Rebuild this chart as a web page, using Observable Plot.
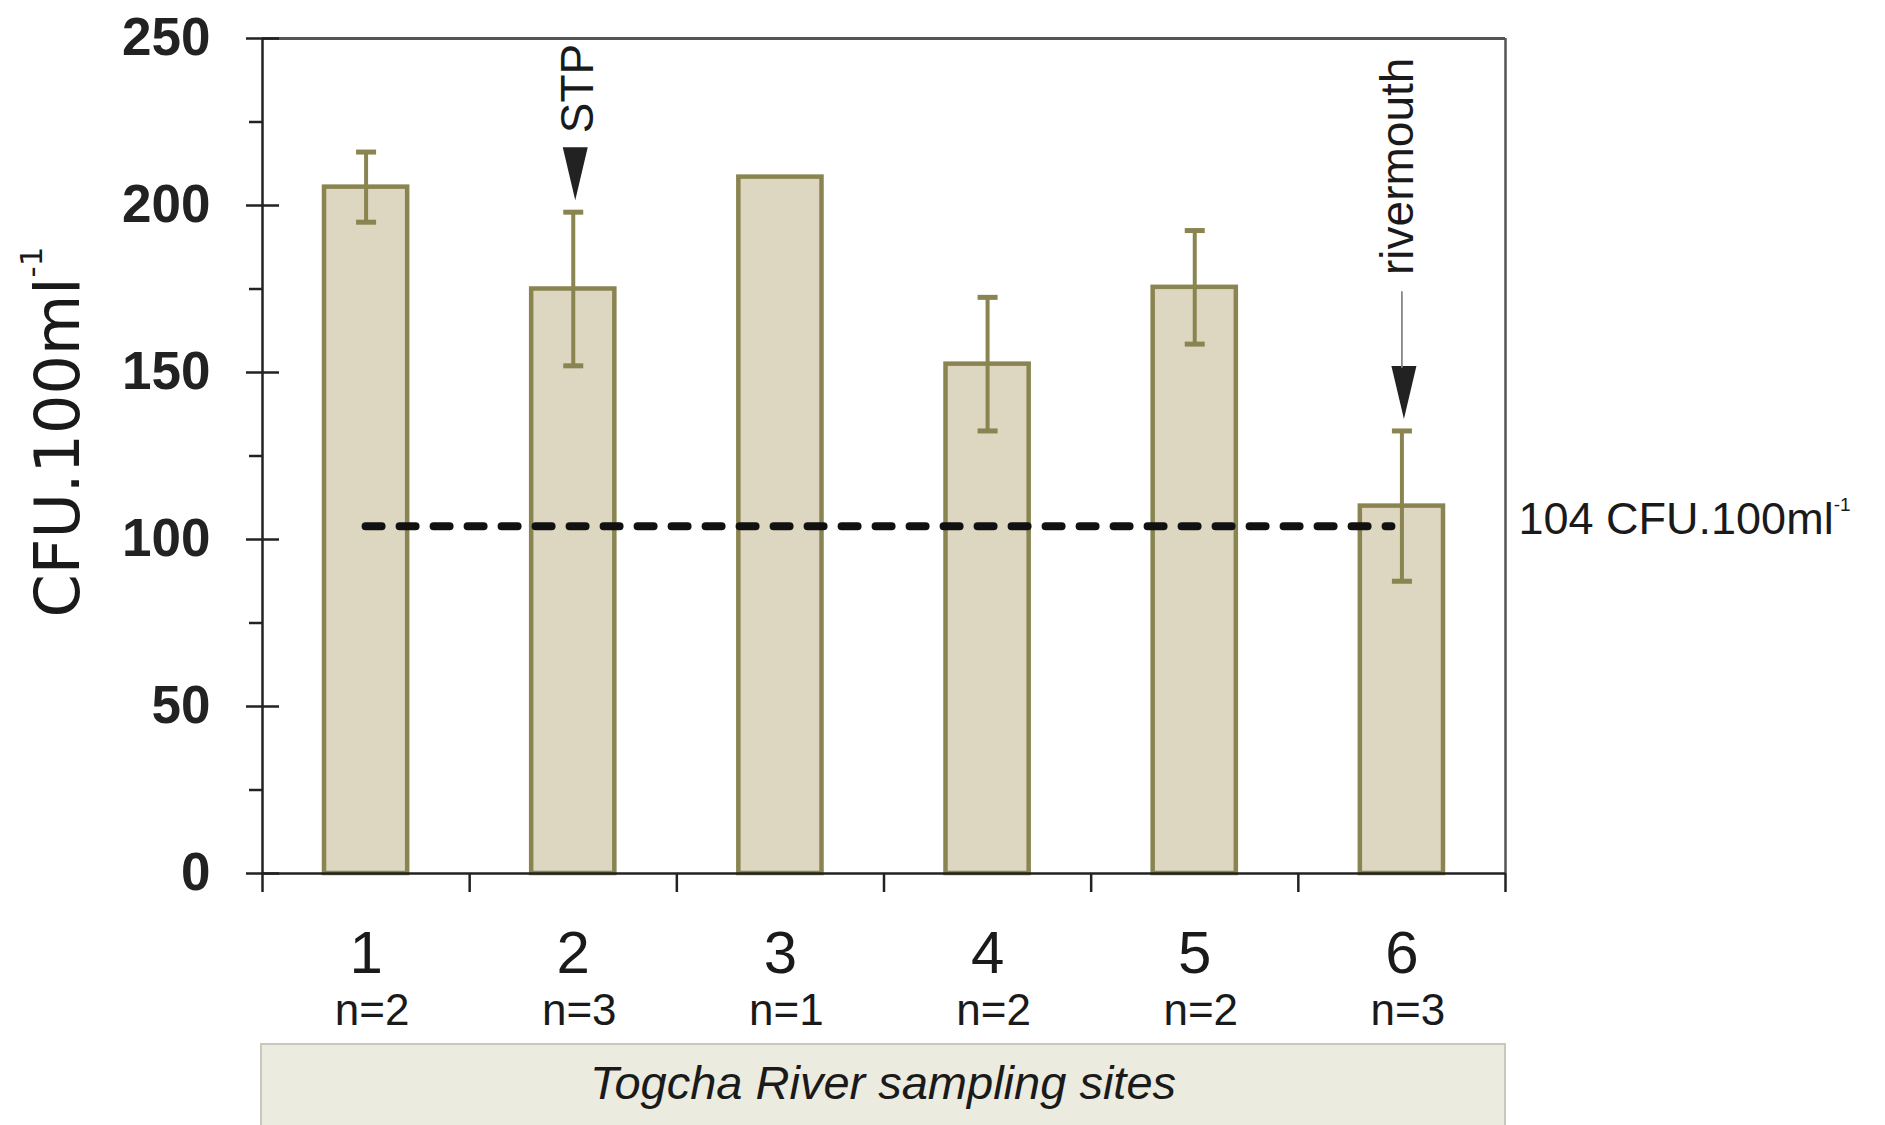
<!DOCTYPE html>
<html>
<head>
<meta charset="utf-8">
<script src="https://cdn.jsdelivr.net/npm/d3@7"></script>
<script src="https://cdn.jsdelivr.net/npm/@observablehq/plot@0.6"></script>
<style>
  html, body { margin: 0; padding: 0; background: #fff; }
  #chart svg { display: block; }
  #caption {
    margin-left: 260px; width: 1246px; height: 82px; box-sizing: border-box;
    background: #ecebdf; border: 2px solid #c9c8bd; border-bottom: none;
    font: italic 47px "Liberation Sans", Arial, sans-serif; color: #1a1a1a;
    text-align: center; line-height: 47px; padding-top: 14px;
  }
</style>
</head>
<body>
<div id="chart"></div>
<div id="caption"></div>
<script>
// ---- data ----
const sites = [1, 2, 3, 4, 5, 6];
const means = [205.5, 175, 208.5, 152.5, 175.5, 110];
const errors = [10.5, 23, null, 20, 17, 22.5];
const nCounts = [2, 3, 1, 2, 2, 3];
const threshold = 104;
const yMajor = [0, 50, 100, 150, 200, 250];
const yMinor = [25, 75, 125, 175, 225];
const annotations = [{site: 2, label: "STP"}, {site: 6, label: "rivermouth"}];
const yTitle = "CFU.100ml";
const unitSup = "-1";
const xTitle = "Togcha River sampling sites";

// ---- derived tables ----
const rows = sites.map((s, i) => ({site: s, mean: means[i], err: errors[i], n: nCounts[i]}));
const errRows = rows.filter(d => d.err != null).map(d => ({...d, lo: d.mean - d.err, hi: d.mean + d.err}));
const capRows = errRows.flatMap(d => [{site: d.site, v: d.lo}, {site: d.site, v: d.hi}]);
const ann = annotations.map(a => ({...a, ...errRows.find(r => r.site === a.site)}));
const boundaries = [...sites.map(s => s - 0.5), sites[sites.length - 1] + 0.5];

// ---- layout / style ----
const W = 1885, H = 1043, ML = 262, MR = 380, MT = 38, MB = 170;
const frameW = W - ML - MR;
const OLIVE = "#8a8450", FILL = "#ddd6c1", INK = "#1a1a1a", AX = "#222";
const annStyle = {
  "STP": {textDy: -79, textDx: 5, leader: null},
  "rivermouth": {textDy: -156, textDx: -4, leader: {dy: -64, length: 75}}
};

const lineShape = {draw(ctx, l) { ctx.moveTo(0, 0); ctx.lineTo(0, -l); }};
const wedgeShape = {draw(ctx, l, r) { ctx.moveTo(0, 0); ctx.lineTo(-r, -l); ctx.lineTo(r, -l); ctx.closePath(); }};

const annMarks = ann.flatMap(a => {
  const st = annStyle[a.label];
  const m = [
    Plot.vector([a], {x: "site", y: "hi", dy: -12, dx: 2, length: 53, r: 12.5, anchor: "start",
      shape: wedgeShape, fill: "#222", stroke: "none"}),
    Plot.text([a], {x: "site", y: "hi", text: "label", rotate: -90, textAnchor: "start", lineAnchor: "middle",
      dy: st.textDy, dx: st.textDx, fontSize: 46, fill: INK})
  ];
  if (st.leader) m.push(Plot.vector([a], {x: "site", y: "hi", dy: st.leader.dy, length: st.leader.length,
    anchor: "start", shape: lineShape, stroke: "#888", strokeWidth: 1.8}));
  return m;
});

const chart = Plot.plot({
  width: W, height: H,
  marginLeft: ML, marginRight: MR, marginTop: MT, marginBottom: MB,
  style: {fontFamily: '"Liberation Sans", Arial, sans-serif', background: "#fff", color: INK, overflow: "visible"},
  x: {domain: [boundaries[0], boundaries[boundaries.length - 1]], label: null},
  y: {domain: [0, 250], label: null},
  marks: [
    Plot.rect(rows, {x1: d => d.site - 0.5, x2: d => d.site + 0.5, y1: 0, y2: "mean",
      insetLeft: 62, insetRight: 62, fill: FILL, stroke: OLIVE, strokeWidth: 4.5}),
    Plot.ruleY([threshold], {y: d => d, x1: sites[0], x2: sites[sites.length - 1], insetRight: 10,
      stroke: "#111", strokeWidth: 8, strokeDasharray: "16,18", strokeLinecap: "round"}),
    Plot.ruleX(errRows, {x: "site", y1: "lo", y2: "hi", stroke: OLIVE, strokeWidth: 4}),
    Plot.vector(capRows, {x: "site", y: "v", length: 20, rotate: 90, anchor: "middle",
      shape: lineShape, stroke: OLIVE, strokeWidth: 5, strokeLinecap: "butt"}),
    ...annMarks,
    // frame
    Plot.ruleY([250], {stroke: "#555", strokeWidth: 3}),
    Plot.ruleX([boundaries[boundaries.length - 1]], {stroke: "#555", strokeWidth: 2.5}),
    Plot.ruleY([0], {stroke: AX, strokeWidth: 2.5}),
    Plot.ruleX([boundaries[0]], {stroke: AX, strokeWidth: 2.5}),
    // y axis
    Plot.axisY({ticks: yMajor, tickSize: 16, tickPadding: 36, fontSize: 53, fontWeight: "bold",
      tickFormat: d => String(d), strokeWidth: 2.5, color: AX, label: null}),
    Plot.axisY({ticks: yMinor, tickSize: 13, tickFormat: () => "", strokeWidth: 2.5, color: AX, label: null}),
    Plot.tickY(yMajor, {y: d => d, insetRight: frameW - 17, stroke: AX, strokeWidth: 2.5}),
    // x axis
    Plot.axisX({ticks: boundaries, tickSize: 19, tickFormat: () => "", strokeWidth: 2.5, color: AX, label: null}),
    Plot.axisX({ticks: sites, tickSize: 0, tickPadding: 57, fontSize: 60, tickFormat: d => String(d), color: INK, label: null}),
    Plot.text(rows, {x: "site", text: d => `n=${d.n}`, frameAnchor: "bottom", lineAnchor: "top",
      dy: 120, dx: 6, fontSize: 44, fill: INK}),
    // titles
    Plot.text([yTitle], {text: d => d, frameAnchor: "left", rotate: -90, textAnchor: "middle",
      lineAnchor: "middle", dx: -203, dy: -24, fontSize: 62, fontFamily: '"DejaVu Sans", sans-serif', fill: INK}),
    Plot.text([threshold], {y: d => d, text: d => `${d} CFU.100ml`, frameAnchor: "right", textAnchor: "start",
      dx: 13, dy: -7, fontSize: 45, fill: INK})
  ]
});

// superscripts
chart.querySelectorAll("text").forEach(t => {
  const s = t.textContent;
  if (s === yTitle) {
    const ts = document.createElementNS("http://www.w3.org/2000/svg", "tspan");
    ts.setAttribute("font-size", "31"); ts.setAttribute("dy", "-37"); ts.textContent = unitSup;
    t.appendChild(ts);
  } else if (s === `${threshold} CFU.100ml`) {
    const ts = document.createElementNS("http://www.w3.org/2000/svg", "tspan");
    ts.setAttribute("font-size", "19"); ts.setAttribute("dy", "-23"); ts.textContent = unitSup;
    t.appendChild(ts);
  }
});

document.getElementById("chart").appendChild(chart);
document.getElementById("caption").textContent = xTitle;
</script>
</body>
</html>
